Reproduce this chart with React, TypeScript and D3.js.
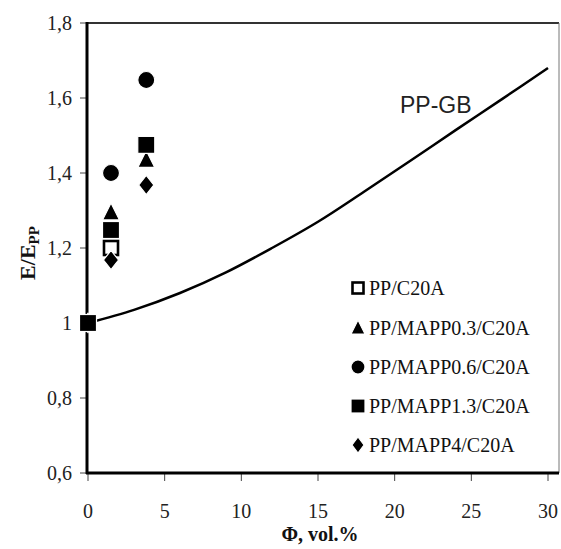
import React from "react";
import * as d3 from "d3";

const xTicks = [0, 5, 10, 15, 20, 25, 30];
const yTicks = [0.6, 0.8, 1.0, 1.2, 1.4, 1.6, 1.8];
const yTickLabels = ["0,6", "0,8", "1", "1,2", "1,4", "1,6", "1,8"];

// PP-GB model curve
const curveX = [0, 3, 6, 9, 12, 15, 18, 21, 24, 27, 30];
const curveY = [1.0, 1.035, 1.08, 1.135, 1.2, 1.27, 1.35, 1.432, 1.515, 1.597, 1.68];

const seriesNames = ["PP/C20A", "PP/MAPP0.3/C20A", "PP/MAPP0.6/C20A", "PP/MAPP1.3/C20A", "PP/MAPP4/C20A"];
const seriesShapes = ["openSquare", "triangle", "circle", "square", "diamond"];
const seriesX = [
  [0, 1.5],
  [0, 1.5, 3.8],
  [0, 1.5, 3.8],
  [0, 1.5, 3.8],
  [0, 1.5, 3.8],
];
const seriesY = [
  [1.0, 1.2],
  [1.0, 1.295, 1.435],
  [1.0, 1.4, 1.648],
  [1.0, 1.248, 1.475],
  [1.0, 1.168, 1.368],
];
// drawing order (filled square on top)
const drawOrder = [0, 1, 2, 4, 3];

const W = 561, H = 549;
const left = 87, right = 559, top = 23, bottom = 473;

function Marker({ shape, cx, cy, size }: { shape: string; cx: number; cy: number; size: number }) {
  const h = size / 2;
  const ws = 1.2;
  if (shape === "openSquare") {
    const s = size - 3;
    return <rect x={cx - s / 2} y={cy - s / 2} width={s} height={s} fill="#fff" stroke="#000" strokeWidth={2.6} />;
  }
  if (shape === "square") {
    return <rect x={cx - h} y={cy - h} width={size} height={size} fill="#000" stroke="#fff" strokeWidth={ws} />;
  }
  if (shape === "circle") {
    return <circle cx={cx} cy={cy} r={h} fill="#000" stroke="#fff" strokeWidth={ws} />;
  }
  if (shape === "triangle") {
    const pts = [[cx, cy - h - 1], [cx + h, cy + h - 1], [cx - h, cy + h - 1]];
    return <polygon points={pts.map(p => p.join(",")).join(" ")} fill="#000" stroke="#fff" strokeWidth={ws} />;
  }
  const pts = [[cx, cy - h - 1], [cx + h - 1, cy], [cx, cy + h + 1], [cx - h + 1, cy]];
  return <polygon points={pts.map(p => p.join(",")).join(" ")} fill="#000" stroke="#fff" strokeWidth={ws} />;
}

export default function App() {
  const x = d3.scaleLinear().domain([0, 30]).range([88, 548]);
  const y = d3.scaleLinear().domain([0.6, 1.8]).range([bottom, top]);

  const line = d3
    .line<number>()
    .x((_, i) => x(curveX[i]))
    .y(d => y(d))
    .curve(d3.curveCatmullRom);

  const legendY = [288, 328, 367, 406, 445];
  const serif = "'Liberation Serif', 'Times New Roman', serif";

  return (
    <svg width={W} height={H} style={{ position: "absolute", left: 0, top: 0, background: "#fff" }}>
      <rect x={0} y={0} width={W} height={H} fill="#fff" />
      <line x1={left} y1={top} x2={right} y2={top} stroke="#333" strokeWidth={2} />
      <line x1={right} y1={top} x2={right} y2={bottom} stroke="#777" strokeWidth={1} />
      {yTicks.map((t, i) => (
        <g key={"y" + i}>
          <line x1={left - 7} x2={left} y1={y(t)} y2={y(t)} stroke="#444" strokeWidth={1} />
          <text x={72} y={y(t)} dy="0.35em" textAnchor="end" fontFamily={serif} fontSize={20} fill="#222">
            {yTickLabels[i]}
          </text>
        </g>
      ))}
      {xTicks.map((t, i) => (
        <g key={"x" + i}>
          <line x1={x(t)} x2={x(t)} y1={bottom} y2={bottom + 8} stroke="#444" strokeWidth={1} />
          <text x={x(t)} y={518} textAnchor="middle" fontFamily={serif} fontSize={20} fill="#222">
            {t}
          </text>
        </g>
      ))}
      <path d={line(curveY) || ""} fill="none" stroke="#000" strokeWidth={2.5} />
      <text x={400} y={113} fontFamily="'Liberation Sans', Arial, sans-serif" fontSize={23} fill="#222">
        PP-GB
      </text>
      <line x1={left} y1={top - 1} x2={left} y2={bottom + 1} stroke="#000" strokeWidth={3} />
      <line x1={left - 1} y1={bottom} x2={right} y2={bottom} stroke="#000" strokeWidth={3} />
      {drawOrder.map(si => (
        <g key={seriesNames[si]}>
          {seriesY[si].map((v, j) => (
            <Marker key={j} shape={seriesShapes[si]} cx={x(seriesX[si][j])} cy={y(v)} size={17} />
          ))}
        </g>
      ))}
      {seriesNames.map((name, si) => (
        <g key={"l" + name}>
          <Marker shape={seriesShapes[si]} cx={358} cy={legendY[si]} size={14} />
          <text x={369} y={legendY[si]} dy="0.35em" fontFamily={serif} fontSize={20} fill="#111">
            {name}
          </text>
        </g>
      ))}
      <text x={320} y={541} textAnchor="middle" fontFamily={serif} fontSize={20} fontWeight="bold" fill="#111">
        Φ, vol.%
      </text>
      <text
        transform={`translate(35,253) rotate(-90)`}
        textAnchor="middle"
        fontFamily={serif}
        fontSize={22}
        fontWeight="bold"
        fill="#111"
      >
        E/E<tspan fontSize={15} dy={4}>PP</tspan>
      </text>
    </svg>
  );
}
